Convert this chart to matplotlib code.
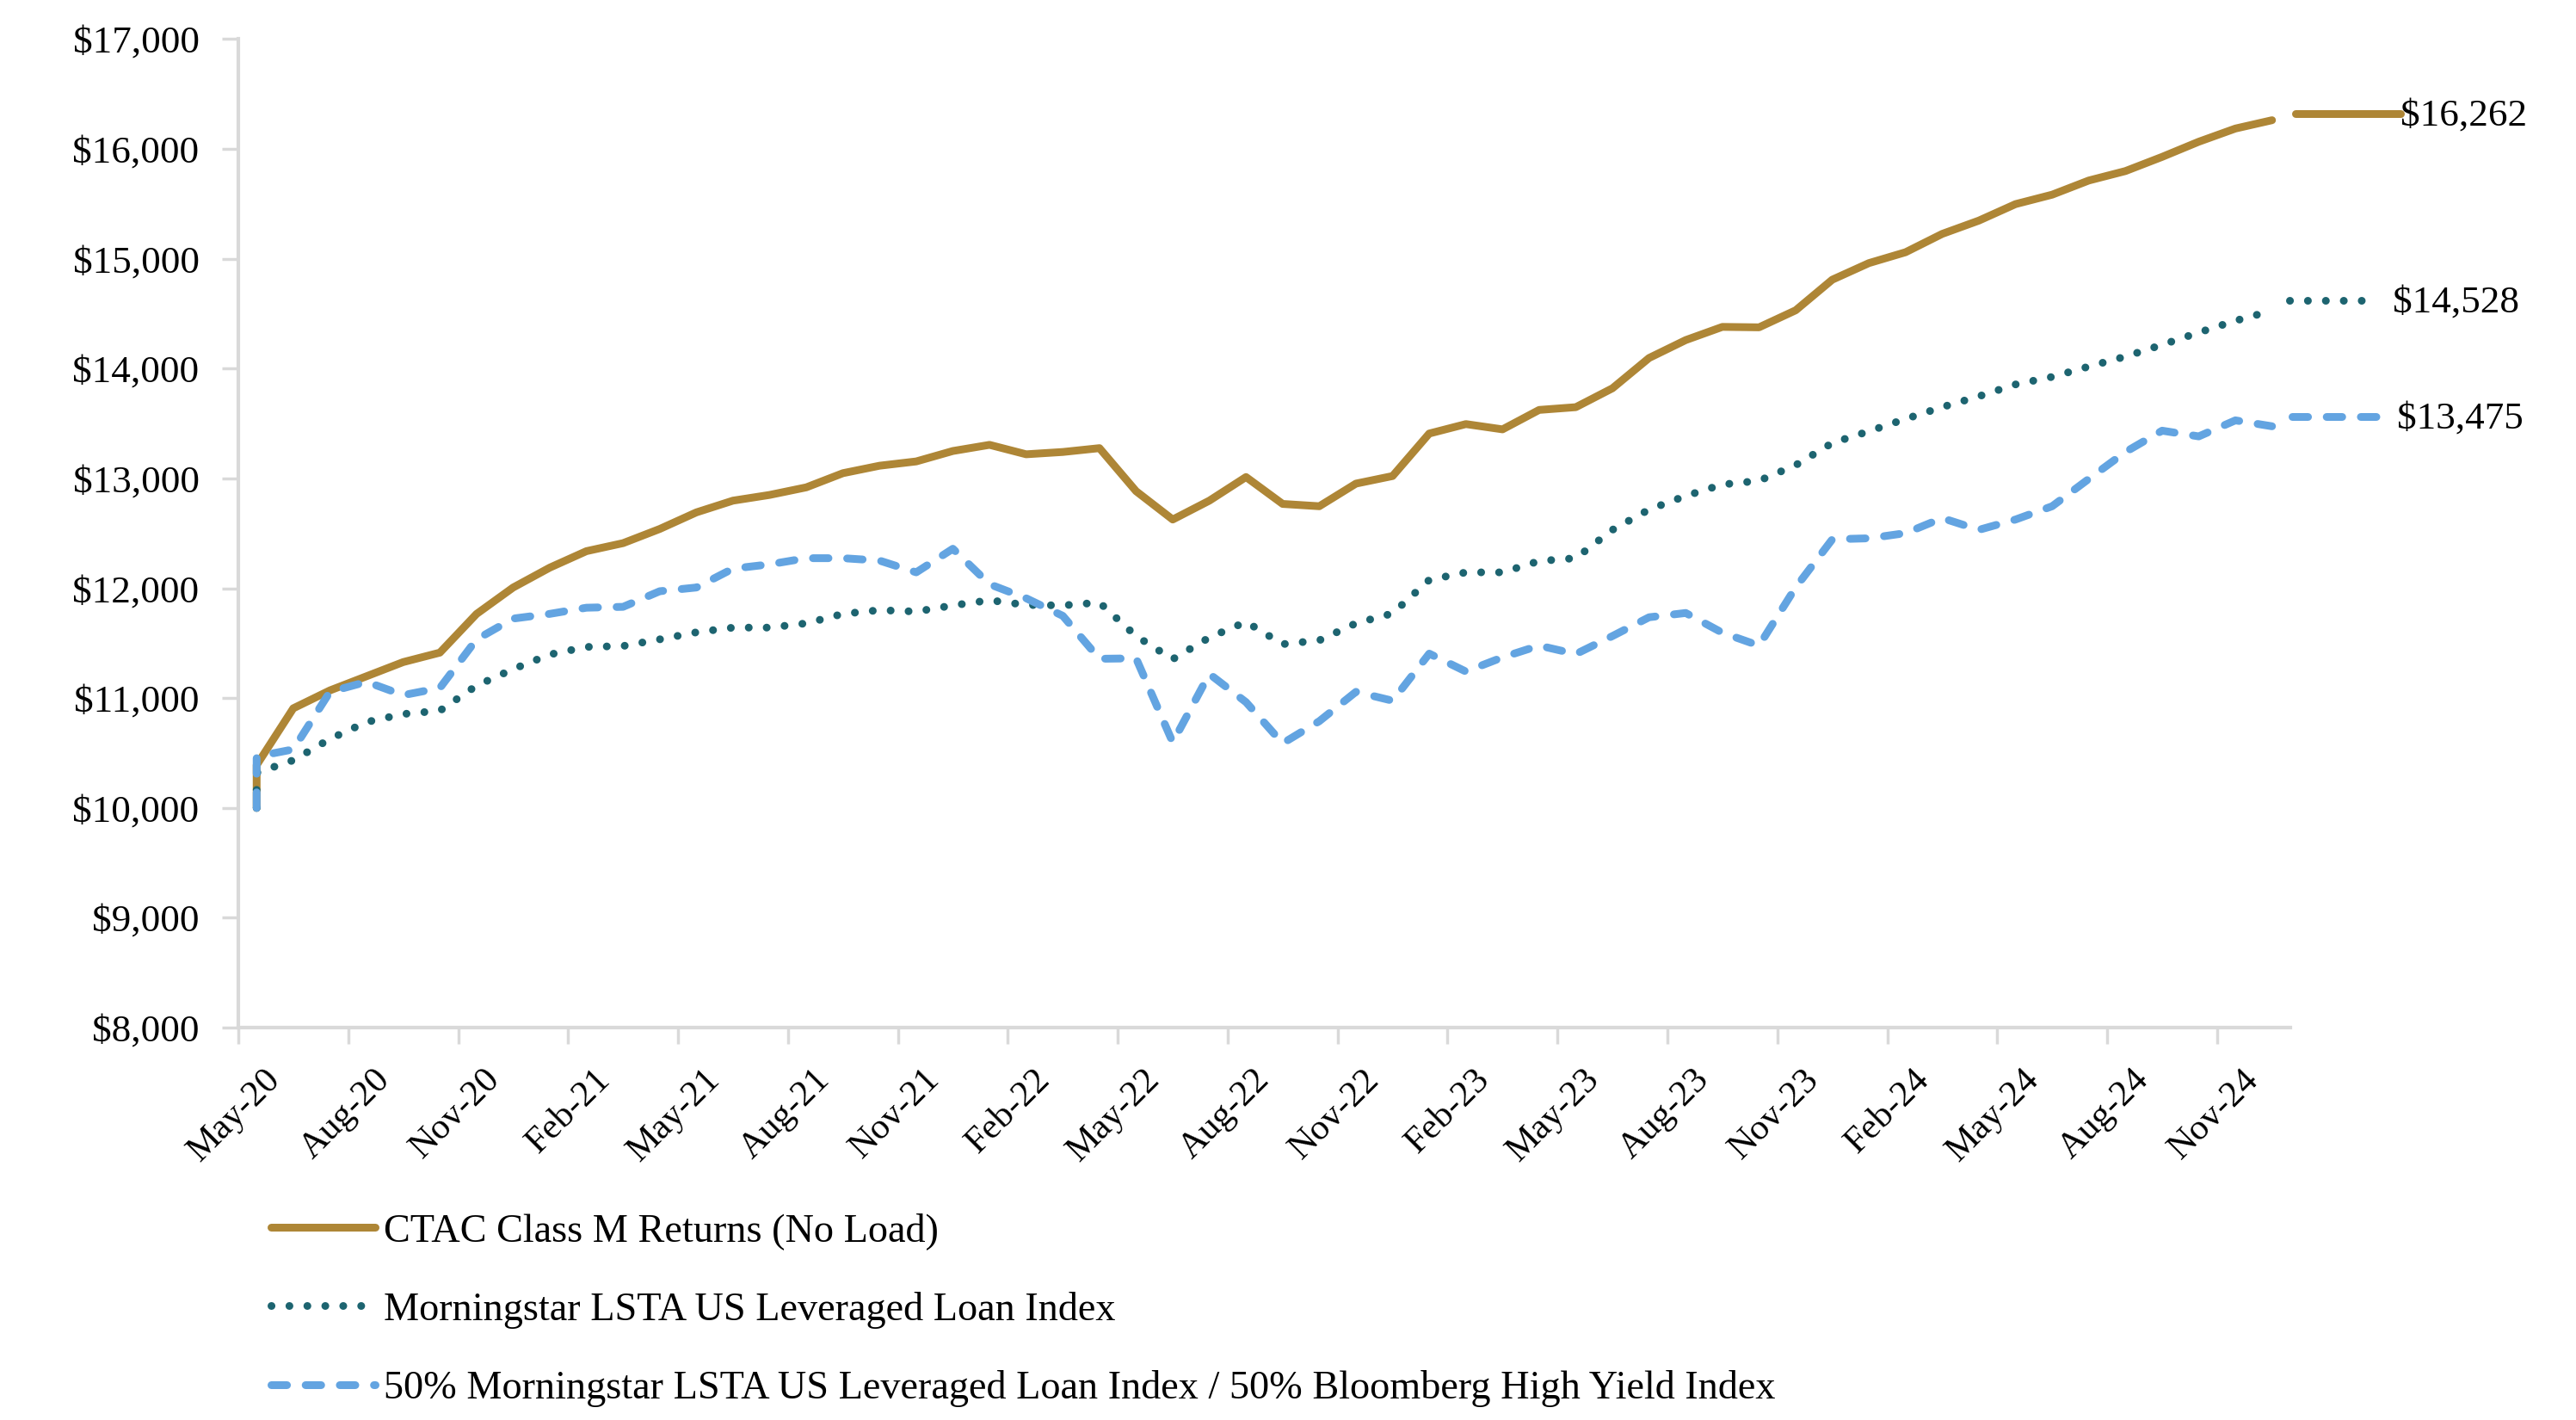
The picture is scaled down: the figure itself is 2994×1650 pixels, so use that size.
import matplotlib
matplotlib.use("Agg")
import matplotlib.pyplot as plt
from matplotlib.transforms import ScaledTranslation
from matplotlib.lines import Line2D

plt.rcParams['font.family'] = ['Liberation Serif', 'DejaVu Serif']

# ---------------- data ----------------
month_labels = ['May-20', 'Aug-20', 'Nov-20', 'Feb-21', 'May-21', 'Aug-21', 'Nov-21',
                'Feb-22', 'May-22', 'Aug-22', 'Nov-22', 'Feb-23', 'May-23', 'Aug-23',
                'Nov-23', 'Feb-24', 'May-24', 'Aug-24', 'Nov-24']
n_months = 56          # May-20 .. Dec-24
start_value = 10000

fund = [10390, 10907, 11070, 11199, 11328, 11414, 11766, 12007, 12188, 12338,
        12411, 12540, 12691, 12798, 12850, 12919, 13048, 13116, 13155, 13250,
        13306, 13220, 13241, 13276, 12884, 12626, 12798, 13013, 12768, 12747,
        12953, 13022, 13409, 13495, 13447, 13624, 13649, 13821, 14097, 14260,
        14380, 14376, 14531, 14810, 14961, 15060, 15227, 15348, 15498, 15584,
        15713, 15799, 15928, 16066, 16186, 16262]

loan_index = [10320, 10434, 10628, 10782, 10855, 10885, 11113, 11264, 11397, 11466,
              11474, 11535, 11599, 11642, 11642, 11681, 11767, 11801, 11788, 11844,
              11891, 11848, 11844, 11870, 11565, 11354, 11552, 11694, 11491, 11526,
              11681, 11771, 12076, 12145, 12145, 12248, 12274, 12532, 12717, 12841,
              12945, 12979, 13121, 13323, 13430, 13542, 13650, 13748, 13856, 13925,
              14019, 14110, 14217, 14329, 14436, 14528]

blend_index = [10468, 10533, 11057, 11148, 11027, 11092, 11534, 11724, 11767, 11823,
               11831, 11973, 12007, 12179, 12218, 12274, 12274, 12252, 12145, 12360,
               12037, 11909, 11749, 11358, 11362, 10597, 11220, 10963, 10588, 10790,
               11057, 10976, 11405, 11242, 11371, 11478, 11401, 11565, 11736, 11775,
               11595, 11478, 12008, 12446, 12455, 12502, 12639, 12532, 12626, 12747,
               12996, 13241, 13435, 13383, 13529, 13475]

end_line_levels = [16320, 14620, 13565]

series_names = ['CTAC Class M Returns (No Load)',
                'Morningstar LSTA US Leveraged Loan Index',
                '50% Morningstar LSTA US Leveraged Loan Index / 50% Bloomberg High Yield Index']

# ---------------- style ----------------
GOLD = '#AE8636'
TEAL = '#1D6470'
BLUE = '#63A4E1'
AXIS_GRAY = '#D9D9D9'
LW = 6.5
FS = 32.5
FS_X = 30.5
FS_LEG = 33.3

fig = plt.figure(figsize=(29.94, 16.5), dpi=100)
W, H = 2994, 1650
ax = fig.add_axes([277 / W, 1 - 1194 / H, (2662 - 277) / W, (1194 - 45.5) / H])

x = [0.5] + [i + 0.5 for i in range(n_months)]
series = [fund, loan_index, blend_index]
styles = [dict(color=GOLD, linestyle='-', solid_capstyle='round', solid_joinstyle='round'),
          dict(color=TEAL, linestyle=(0, (0.01, 2.3)), dash_capstyle='round'),
          dict(color=BLUE, linestyle=(0, (2.0, 2.4)), dash_capstyle='round',
               dash_joinstyle='round')]

for vals, st in zip(series, styles):
    ax.plot(x, [start_value] + vals, lw=LW, **st)

# end markers + labels
end_x0 = [56.15, 55.98, 56.05]
end_x1 = [59.0, 58.4, 58.5]
label_x = [59.0, 58.8, 58.9]
for vals, st, lev, x0, x1, lx in zip(series, styles, end_line_levels, end_x0, end_x1, label_x):
    ax.plot([x0, x1], [lev, lev], lw=LW, clip_on=False, **st)
    ax.text(lx, lev - 20, f"${vals[-1]:,.0f}", fontsize=FS, ha='left', va='center',
            clip_on=False)

ax.set_xlim(0, n_months)
ax.set_ylim(8000, 17000)

# y axis
ax.set_yticks(range(8000, 17001, 1000))
ax.set_yticklabels([f"${v:,.0f}" for v in range(8000, 17001, 1000)], fontsize=FS)
ax.tick_params(axis='y', length=14, width=2.5, color=AXIS_GRAY, pad=18.7, direction='out')

# x axis: ticks at 3-month boundaries, labels at month centres
ax.set_xticks(range(0, n_months, 3))
ax.set_xticklabels([''] * len(range(0, n_months, 3)))
ax.set_xticks([i + 0.5 for i in range(0, n_months, 3)], minor=True)
ax.set_xticklabels(month_labels, minor=True, fontsize=FS_X, rotation=45,
                   ha='right', va='top', rotation_mode='anchor')
ax.tick_params(axis='x', which='major', length=14, width=2.5, color=AXIS_GRAY, direction='out')
ax.tick_params(axis='x', which='minor', length=0, pad=29.5)
offset = ScaledTranslation(8 / 100, 0, fig.dpi_scale_trans)
for lab in ax.get_xticklabels(minor=True):
    lab.set_transform(lab.get_transform() + offset)

for s in ['top', 'right']:
    ax.spines[s].set_visible(False)
for s in ['left', 'bottom']:
    ax.spines[s].set_color(AXIS_GRAY)
    ax.spines[s].set_linewidth(3)

# legend
handles = [Line2D([], [], lw=LW, **st) for st in styles]
fig.legend(handles, series_names, loc='upper left', bbox_to_anchor=(315 / W, 1 - 1409 / H),
           frameon=False, fontsize=FS_LEG, handlelength=2.62, handletextpad=0.22,
           labelspacing=1.05, borderpad=0, borderaxespad=0)

fig.savefig('out.png', dpi=100, facecolor='white')
